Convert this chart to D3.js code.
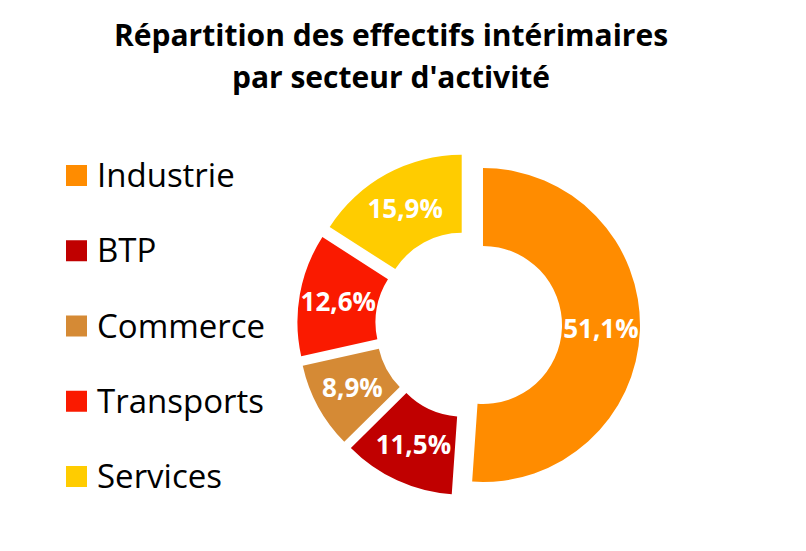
<!DOCTYPE html>
<html>
<head>
<meta charset="utf-8">
<script src="https://cdn.jsdelivr.net/npm/d3@7"></script>
<style>
  body { margin: 0; background: #fff; }
  text { font-family: "Open Sans", sans-serif; }
</style>
</head>
<body>
<div id="chart"></div>
<script>
// données : répartition par secteur (%)
const secteurs = ["Industrie", "BTP", "Commerce", "Transports", "Services"];
const parts = [51.1, 11.5, 8.9, 12.6, 15.9];
const couleurs = ["#ff8c00", "#c00000", "#d58a35", "#fa1a00", "#ffcc00"];
const titre = ["Répartition des effectifs intérimaires", "par secteur d'activité"];

const width = 806, height = 551;
const cx = 468.6, cy = 324.5;
const rInner = 79, rOuter = 157, explode = 14.4;

const svg = d3.select("#chart")
  .append("svg")
  .attr("width", width)
  .attr("height", height);

// titre
svg.append("g")
  .selectAll("text")
  .data(titre)
  .enter()
  .append("text")
  .attr("x", 391)
  .attr("y", (d, i) => 46 + i * 42)
  .attr("text-anchor", "middle")
  .attr("font-size", 30)
  .attr("font-weight", "bold")
  .attr("fill", "#000")
  .text(d => d);

const data = secteurs.map((s, i) => ({ secteur: s, value: parts[i], color: couleurs[i] }));

const pie = d3.pie()
  .sort(null)
  .value(d => d.value);

const arc = d3.arc()
  .innerRadius(rInner)
  .outerRadius(rOuter);

const arcs = pie(data);

// décalage de chaque part (explosion)
const offset = d => {
  const a = (d.startAngle + d.endAngle) / 2;
  return [Math.sin(a) * explode, -Math.cos(a) * explode];
};

const donut = svg.append("g")
  .attr("transform", `translate(${cx}, ${cy})`);

const slices = donut.selectAll(".slice")
  .data(arcs)
  .enter()
  .append("g")
  .attr("class", "slice")
  .attr("transform", d => `translate(${offset(d)[0]}, ${offset(d)[1]})`);

slices.append("path")
  .attr("d", arc)
  .attr("fill", d => d.data.color);

slices.append("text")
  .attr("transform", d => `translate(${arc.centroid(d)})`)
  .attr("text-anchor", "middle")
  .attr("dy", "0.36em")
  .attr("font-size", 26)
  .attr("font-weight", "bold")
  .attr("fill", "#fff")
  .text(d => d3.format(".1f")(d.data.value).replace(".", ",") + "%");

// légende
const yLegend = d3.scalePoint()
  .domain(secteurs)
  .range([175.5, 476.5]);

const legend = svg.append("g")
  .selectAll("g")
  .data(data)
  .enter()
  .append("g")
  .attr("transform", d => `translate(66, ${yLegend(d.secteur)})`);

legend.append("rect")
  .attr("x", 0)
  .attr("y", -10.5)
  .attr("width", 21)
  .attr("height", 21)
  .attr("fill", d => d.color);

legend.append("text")
  .attr("x", 31)
  .attr("y", 11.5)
  .attr("font-size", 33)
  .attr("fill", "#000")
  .text(d => d.secteur);
</script>
</body>
</html>
